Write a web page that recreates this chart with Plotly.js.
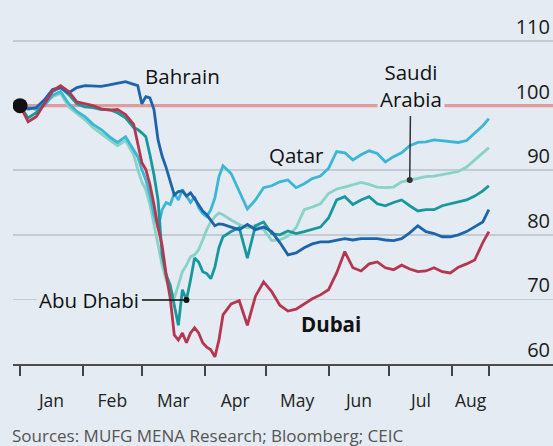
<!DOCTYPE html>
<html>
<head>
<meta charset="utf-8">
<script src="https://cdn.plot.ly/plotly-3.0.1.min.js"></script>
<style>html,body{margin:0;padding:0;background:#e4ebf2;}#chart{width:553px;height:446px;}</style>
</head>
<body>
<div id="chart"></div>
<script>
// ---- data (index, 1 Jan 2020 = 100) ----
const dates = ['2020-01-01','2020-01-05','2020-01-09','2020-01-13','2020-01-17','2020-01-21','2020-01-25','2020-01-29',
'2020-02-02','2020-02-06','2020-02-10','2020-02-14','2020-02-18','2020-02-22','2020-02-26','2020-02-28',
'2020-03-01','2020-03-03','2020-03-05','2020-03-07','2020-03-09','2020-03-11','2020-03-13','2020-03-15','2020-03-17','2020-03-19','2020-03-21','2020-03-23','2020-03-25','2020-03-27','2020-03-29','2020-03-31',
'2020-04-02','2020-04-04','2020-04-06','2020-04-08','2020-04-10','2020-04-14','2020-04-18','2020-04-22','2020-04-26','2020-04-30',
'2020-05-04','2020-05-08','2020-05-12','2020-05-16','2020-05-20','2020-05-24','2020-05-28',
'2020-06-01','2020-06-05','2020-06-09','2020-06-13','2020-06-17','2020-06-21','2020-06-25','2020-06-29',
'2020-07-03','2020-07-07','2020-07-11','2020-07-15','2020-07-19','2020-07-23','2020-07-27','2020-07-31',
'2020-08-04','2020-08-08','2020-08-12','2020-08-16','2020-08-19'];

const dubai = [100,97.5,98.3,100.2,102.3,103.1,102.2,100.6,100.3,100.0,99.5,99.3,99.4,98.6,97.1,
94.0,91.2,90.1,87.8,84.7,81.1,78.4,73.8,70.2,64.5,63.7,64.8,63.3,64.8,65.6,64.8,63.3,62.6,62.2,61.1,63.7,67.6,
69.3,69.8,66.0,70.5,72.7,71.2,69.1,68.2,68.5,69.3,70.1,70.7,71.5,74.1,77.4,74.9,74.4,75.5,75.8,74.9,74.6,75.3,74.7,74.3,74.4,74.9,74.3,74.1,75.0,75.5,76.1,78.8,80.5];

const bahrain = [100,99.5,99.7,100.9,102.5,102.8,102.0,102.8,103.1,103.1,103.0,103.2,103.4,103.7,103.3,
103.1,100.3,101.4,101.2,99.4,94.7,92.2,90.4,88.2,86.2,86.7,86.8,86.0,86.5,85.6,84.7,83.7,83.1,82.3,81.4,81.7,81.6,
81.2,80.8,81.6,80.8,81.2,80.5,78.8,76.9,77.2,78.0,78.6,78.9,78.9,79.1,79.4,79.2,79.4,79.4,79.4,79.2,79.1,79.4,80.3,81.4,80.5,80.2,79.7,79.7,80.0,80.5,81.2,82.0,83.9];

const qatar = [100,99.7,99.4,100.0,101.6,102.2,100.3,99.1,98.3,97.1,96.3,95.2,94.3,95.2,93.2,
92.1,90.1,88.5,86.2,83.1,81.1,83.9,85.0,84.7,86.4,85.4,87.0,85.9,85.0,85.9,84.2,83.3,82.8,83.9,85.7,89.0,90.7,
89.5,86.7,84.0,85.4,87.3,87.6,88.2,88.5,87.3,87.9,88.7,89.1,90.3,92.9,92.7,91.6,92.4,93.0,92.6,91.3,92.1,92.7,93.8,94.3,94.4,94.7,94.6,94.4,94.3,94.6,95.8,96.9,98.0];

const saudi = [100,99.4,99.7,100.3,101.4,101.9,99.8,98.8,97.8,96.6,95.7,94.7,93.8,94.6,92.4,
90.1,88.2,87.0,84.7,81.6,78.4,75.3,73.0,71.5,70.2,72.2,74.3,75.3,76.6,76.9,77.7,79.2,80.8,82.0,82.8,83.4,83.1,
82.3,81.6,81.1,81.4,80.8,79.1,79.2,79.8,81.1,83.9,84.3,84.8,86.4,87.1,87.4,87.8,88.1,87.8,87.4,87.3,87.4,88.2,88.5,88.8,89.0,89.1,89.3,89.5,89.8,90.5,91.6,92.7,93.5];

const abuDhabi = [100,98.1,98.9,100.3,102.2,102.8,101.7,100.3,99.8,99.7,99.4,99.4,98.9,98.1,96.6,
96.3,95.8,95.2,92.4,89.3,85.4,76.9,73.8,72.2,69.1,66.0,71.5,69.9,73.0,76.4,75.8,74.3,74.0,73.2,75.0,78.0,79.7,
80.5,81.1,76.4,81.4,82.0,80.2,80.0,80.6,80.2,80.5,80.8,81.2,82.6,85.4,85.9,84.7,85.4,85.9,84.8,84.5,85.0,85.4,84.5,83.7,83.9,83.9,84.5,84.8,85.1,85.4,86.0,86.8,87.6];

const months = ['Jan','Feb','Mar','Apr','May','Jun','Jul','Aug'];
const monthStarts = ['2020-01-01','2020-02-01','2020-03-01','2020-04-01','2020-05-01','2020-06-01','2020-07-01','2020-08-01'];
const yTicks = [60,70,80,90,100,110];
const gridTicks = [70,80,90,110];   // 100 is the highlighted baseline
const baseline = 100;
const sourceText = 'Sources: MUFG MENA Research; Bloomberg; CEIC';

// ---- styling ----
const BG = '#e4ebf2';
const FONT = 'Open Sans, Noto Sans, sans-serif';
const C = {dubai:'#b5364f', bahrain:'#1e64aa', qatar:'#3cb6d6', saudi:'#88d2c8', abu:'#17989d'};

// month label positions: midpoint between consecutive boundaries (last boundary = last data date)
const bounds = monthStarts.concat([dates[dates.length-1]]).map(d => new Date(d + 'T00:00:00Z').getTime());
const monthMid = months.map((m,i) => new Date((bounds[i] + bounds[i+1]) / 2).toISOString().slice(0,16).replace('T',' '));
const tickMarks = monthStarts.concat([dates[dates.length-1]]);

function line(y, color) {
  return {x: dates, y: y, type: 'scatter', mode: 'lines', hoverinfo: 'skip',
          line: {color: color, width: 2.8, shape: 'linear'}};
}

const traces = [
  line(saudi, C.saudi),
  line(qatar, C.qatar),
  line(abuDhabi, C.abu),
  line(bahrain, C.bahrain),
  line(dubai, C.dubai),
  {x: [dates[0]], y: [dubai[0]], type: 'scatter', mode: 'markers', hoverinfo: 'skip',
   marker: {size: 15, color: '#111111'}}
];

const iAbu = dates.indexOf('2020-03-23');
const iSaudi = dates.indexOf('2020-07-11');
const YR = [60, 114.5];
const lab = {size: 20.5, color: '#111'};

const layout = {
  width: 553, height: 446,
  paper_bgcolor: BG, plot_bgcolor: BG,
  margin: {l: 13, r: 0, t: 12, b: 82},
  showlegend: false,
  hovermode: false,
  font: {family: FONT, color: '#1a1a1a'},
  xaxis: {
    type: 'date',
    range: ['2019-12-28 13:00', '2020-09-19 14:00'],
    showgrid: false, zeroline: false,
    showline: true, linecolor: '#4d4d4d', linewidth: 2,
    tickmode: 'array', tickvals: monthMid, ticktext: months,
    ticks: '', ticklabelstandoff: 20,
    tickfont: {family: FONT, size: 17.5, color: '#222'},
    minor: {tickmode: 'array', tickvals: tickMarks, ticks: 'outside', ticklen: 10,
            tickwidth: 2, tickcolor: '#444', showgrid: false}
  },
  yaxis: {
    side: 'right', range: YR,
    tickmode: 'array', tickvals: gridTicks,
    showticklabels: false,
    showgrid: true, gridcolor: '#c4ccd3', gridwidth: 1.6,
    zeroline: false, showline: false, ticks: ''
  },
  yaxis2: {
    overlaying: 'y', matches: 'y', side: 'right', range: YR,
    tickmode: 'array', tickvals: yTicks, ticktext: yTicks.map(String),
    showgrid: false, zeroline: false, showline: false, ticks: '',
    ticklabelposition: 'inside top',
    tickfont: {family: FONT, size: 20, color: '#1a1a1a'}
  },
  shapes: [
    {type: 'line', xref: 'paper', x0: 0, x1: 1, yref: 'y', y0: baseline, y1: baseline,
     line: {color: '#de9c9f', width: 3.2}, layer: 'below'}
  ],
  annotations: [
    {text: 'Bahrain', x: '2020-03-21', y: 104.6, xref: 'x', yref: 'y', showarrow: false, font: lab},
    {text: 'Qatar', x: '2020-05-16', y: 92.4, xref: 'x', yref: 'y', showarrow: false, font: lab},
    {text: '<b>Dubai</b>', x: '2020-06-02', y: 66.2, xref: 'x', yref: 'y', showarrow: false, font: lab},
    {text: 'Abu Dhabi', x: dates[iAbu], y: abuDhabi[iAbu], xref: 'x', yref: 'y',
     showarrow: true, ax: -97, ay: 0, arrowhead: 6, arrowsize: 1, arrowwidth: 1.5, arrowcolor: '#111',
     bgcolor: BG, borderpad: 2, font: lab},
    {text: 'Saudi<br>Arabia', x: dates[iSaudi], y: saudi[iSaudi], xref: 'x', yref: 'y',
     showarrow: true, ax: 1, ay: -94, arrowhead: 6, arrowsize: 1, arrowwidth: 1.5, arrowcolor: '#333',
     bgcolor: BG, borderpad: 2, font: lab},
    {text: sourceText, xref: 'paper', yref: 'paper', x: 0, y: (364 - 435) / 352, xanchor: 'left', yanchor: 'middle',
     xshift: -3, showarrow: false, font: {size: 17, color: '#555'}}
  ]
};

// a dummy invisible trace to activate yaxis2 labels
traces.push({x: [dates[0]], y: [baseline], yaxis: 'y2', type: 'scatter', mode: 'markers',
             marker: {opacity: 0}, hoverinfo: 'skip'});

Plotly.newPlot('chart', traces, layout, {displayModeBar: false, staticPlot: true});
</script>
</body>
</html>
